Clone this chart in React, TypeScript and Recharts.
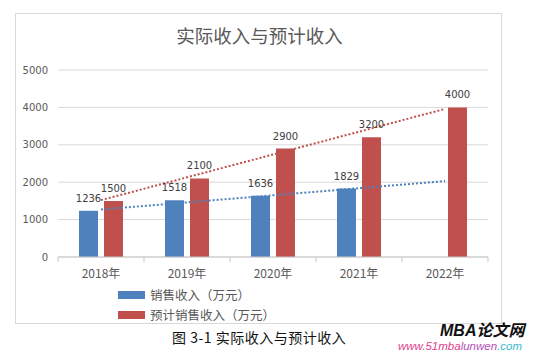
import { ComposedChart, Bar, Line, XAxis, YAxis, CartesianGrid, LabelList } from "recharts";

const years = ["2018年", "2019年", "2020年", "2021年", "2022年"];
const actual = [1236, 1518, 1636, 1829, null];
const forecast = [1500, 2100, 2900, 3200, 4000];
// linear trendlines, only the end points
const actualTrend = [1270, null, null, null, 2030];
const forecastTrend = [1520, null, null, null, 3960];
const yTicks = [0, 1000, 2000, 3000, 4000, 5000];

const BLUE = "#4F81BD";
const RED = "#C0504D";
const GRAY_TEXT = "#595959";
const GRID = "#D9D9D9";
const AXIS = "#C8C8C8";

const CHART_W = 555;
const CHART_H = 353;
const MARGIN = { top: 70, right: 67, bottom: 66, left: 18 };
const Y_AXIS_W = 40;
const BAND = (CHART_W - MARGIN.left - MARGIN.right - Y_AXIS_W) / years.length;

const data = years.map((year, i) => ({
  year,
  actual: actual[i],
  forecast: forecast[i],
  actualTrend: actualTrend[i],
  forecastTrend: forecastTrend[i],
}));

const labelStyle = { fill: "#404040", fontSize: 10, fontFamily: "DejaVu Sans" };

// category label plus Excel-style tick marks on the band edges
function YearTick(props: any) {
  const { x, y, payload, index } = props;
  const axisY = y - 12;
  const last = index === years.length - 1;
  return (
    <g>
      <line x1={x - BAND / 2} x2={x - BAND / 2} y1={axisY} y2={axisY + 5} stroke={AXIS} />
      {last && <line x1={x + BAND / 2} x2={x + BAND / 2} y1={axisY} y2={axisY + 5} stroke={AXIS} />}
      <text x={x} y={y} dy="0.71em" textAnchor="middle" fill={GRAY_TEXT} fontSize={12} fontFamily="'Noto Sans CJK SC'">
        {payload.value}
      </text>
    </g>
  );
}

function LegendRow({ color, text, top }: { color: string; text: string; top: number }) {
  return (
    <div style={{ position: "absolute", left: 118, top, display: "flex", alignItems: "center" }}>
      <div style={{ width: 27, height: 8, background: color, marginRight: 5 }} />
      <span style={{ fontSize: 12.5, color: GRAY_TEXT, fontFamily: "'Noto Sans CJK SC'", lineHeight: "16px" }}>{text}</span>
    </div>
  );
}

export default function App() {
  return (
    <div style={{ position: "absolute", left: 0, top: 0, width: CHART_W, height: CHART_H, background: "#fff", overflow: "hidden" }}>
      <div
        style={{
          position: "absolute",
          left: 15,
          top: 13,
          width: 487,
          height: 311,
          border: `1px solid ${GRID}`,
          boxSizing: "border-box",
        }}
      />
      <div
        style={{
          position: "absolute",
          left: 15,
          width: 489,
          top: 22,
          textAlign: "center",
          fontSize: 18.5,
          color: GRAY_TEXT,
          fontFamily: "'Noto Sans CJK SC'",
          lineHeight: "26px",
        }}
      >
        实际收入与预计收入
      </div>
      <div style={{ position: "absolute", left: 0, top: 0 }}>
        <ComposedChart width={CHART_W} height={CHART_H} data={data} margin={MARGIN} barSize={19} barGap={6}>
          <CartesianGrid vertical={false} stroke={GRID} />
          <XAxis
            dataKey="year"
            axisLine={{ stroke: AXIS }}
            tickLine={false}
            tickSize={0}
            tickMargin={12}
            tick={<YearTick />}
          />
          <YAxis
            domain={[0, 5000]}
            ticks={yTicks}
            width={Y_AXIS_W}
            axisLine={false}
            tickLine={false}
            tickSize={0}
            tickMargin={10}
            tick={{ fill: GRAY_TEXT, fontSize: 10, fontFamily: "DejaVu Sans" }}
          />
          <Bar dataKey="actual" fill={BLUE} isAnimationActive={false}>
            <LabelList dataKey="actual" position="top" offset={9} style={labelStyle} />
          </Bar>
          <Bar dataKey="forecast" fill={RED} isAnimationActive={false}>
            <LabelList dataKey="forecast" position="top" offset={9} style={labelStyle} />
          </Bar>
          <Line
            dataKey="actualTrend"
            stroke={BLUE}
            strokeWidth={2}
            strokeDasharray="2 2"
            dot={false}
            activeDot={false}
            connectNulls
            isAnimationActive={false}
          />
          <Line
            dataKey="forecastTrend"
            stroke={RED}
            strokeWidth={2}
            strokeDasharray="2 2"
            dot={false}
            activeDot={false}
            connectNulls
            isAnimationActive={false}
          />
        </ComposedChart>
      </div>
      <LegendRow color={BLUE} text="销售收入（万元）" top={287} />
      <LegendRow color={RED} text="预计销售收入（万元）" top={307} />
      <div
        style={{
          position: "absolute",
          left: 172,
          top: 327,
          fontSize: 14,
          color: "#111",
          fontFamily: "'Noto Sans CJK SC'",
          lineHeight: "20px",
          whiteSpace: "nowrap",
          letterSpacing: 0.5,
        }}
      >
        图 3-1 实际收入与预计收入
      </div>
      <div
        style={{
          position: "absolute",
          left: 440,
          top: 322,
          fontSize: 16,
          fontWeight: 700,
          fontStyle: "italic",
          color: "#111",
          fontFamily: "'Liberation Sans', 'Noto Sans CJK SC'",
          lineHeight: "18px",
          whiteSpace: "nowrap",
        }}
      >
        MBA论文网
      </div>
      <div
        style={{
          position: "absolute",
          left: 398,
          top: 340,
          fontSize: 11.5,
          fontStyle: "italic",
          fontFamily: "'Liberation Sans'",
          lineHeight: "13px",
          whiteSpace: "nowrap",
        }}
      >
        <span style={{ color: "#e0408a" }}>www.51mba</span>
        <span style={{ color: "#b44fb4" }}>lunwen</span>
        <span style={{ color: "#3bb6cc" }}>.com</span>
      </div>
    </div>
  );
}
